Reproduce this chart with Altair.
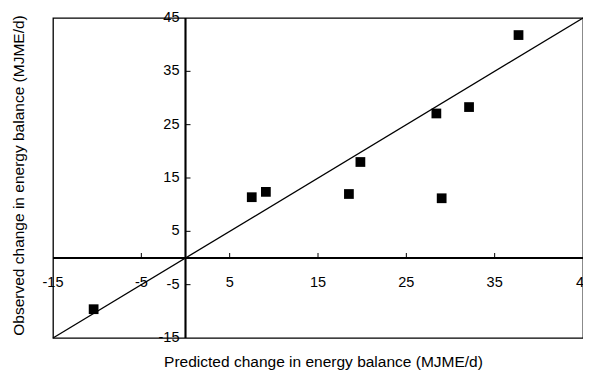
import altair as alt
import pandas as pd

# Observed vs predicted change in energy balance (MJME/d)
predicted = [-10.4, 7.5, 9.1, 18.5, 19.8, 28.4, 29.0, 32.1, 37.7]
observed = [-9.6, 11.4, 12.4, 12.0, 18.0, 27.1, 11.2, 28.3, 41.8]

tick_values = [-5, 5, 15, 25, 35]
x_label_values = [-15, -5, 5, 15, 25, 35]
x_label_texts = ["-15", "-5", "5", "15", "25", "35"]
x_edge_value = [45]
x_edge_text = ["4"]  # the right-most label shows only "4" in the reference
y_label_values = [-15, -5, 5, 15, 25, 35, 45]
y_label_texts = ["-15", "-5", "5", "15", "25", "35", "45"]
line_ends = [-15, 45]

FONT = "Liberation Sans"

pts = pd.DataFrame({"p": predicted, "o": observed})
line_df = pd.DataFrame({"p": line_ends, "o": line_ends})
ticks_df = pd.DataFrame({"v": tick_values})
xlab_df = pd.DataFrame({"v": x_label_values, "t": x_label_texts})
xedge_df = pd.DataFrame({"v": x_edge_value, "t": x_edge_text})
ylab_df = pd.DataFrame({"v": y_label_values, "t": y_label_texts})

xs = alt.Scale(domain=[-15, 45], nice=False, zero=False)
ys = alt.Scale(domain=[-15, 45], nice=False, zero=False)

x_axis = alt.Axis(labels=False, ticks=False, domain=False, grid=False,
                  title="Predicted change in energy balance (MJME/d)",
                  titleFont=FONT, titleFontSize=15.5, titleFontWeight="normal",
                  titleColor="black", titleX=270, titleY=28,
                  titleBaseline="alphabetic", titleAlign="center")
y_axis = alt.Axis(labels=False, ticks=False, domain=False, grid=False,
                  title="Observed change in energy balance (MJME/d)",
                  titleFont=FONT, titleFontSize=15.5, titleFontWeight="normal",
                  titleColor="black", titleX=-35, titleY=157,
                  titleBaseline="middle", titleAlign="center", titleAngle=270)

points = alt.Chart(pts).mark_square(size=95, color="black", opacity=1).encode(
    x=alt.X("p:Q", scale=xs, axis=x_axis),
    y=alt.Y("o:Q", scale=ys, axis=y_axis),
)

diag = alt.Chart(line_df).mark_line(color="black", strokeWidth=1.3).encode(
    x=alt.X("p:Q", scale=xs),
    y=alt.Y("o:Q", scale=ys),
)

vrule = alt.Chart(ticks_df).mark_rule(color="black", strokeWidth=1.3).encode(
    x=alt.datum(0, scale=xs),
)
hrule = alt.Chart(ticks_df).mark_rule(color="black", strokeWidth=1.3).encode(
    y=alt.datum(0, scale=ys),
)

xticks = alt.Chart(ticks_df).mark_rule(color="black", strokeWidth=1, y2Offset=-5).encode(
    x=alt.X("v:Q", scale=xs),
    y=alt.datum(0, scale=ys),
    y2=alt.datum(0),
)
yticks = alt.Chart(ticks_df).mark_rule(color="black", strokeWidth=1, x2Offset=5).encode(
    y=alt.Y("v:Q", scale=ys),
    x=alt.datum(0, scale=xs),
    x2=alt.datum(0),
)

xlabels = alt.Chart(xlab_df).mark_text(
    font=FONT, fontSize=14.5, color="black", dy=25, baseline="middle", align="center"
).encode(
    x=alt.X("v:Q", scale=xs),
    y=alt.datum(0, scale=ys),
    text="t:N",
)
xedge = alt.Chart(xedge_df).mark_text(
    font=FONT, fontSize=14.5, color="black", dy=25, dx=1, baseline="middle", align="right"
).encode(
    x=alt.X("v:Q", scale=xs),
    y=alt.datum(0, scale=ys),
    text="t:N",
)
ylabels = alt.Chart(ylab_df).mark_text(
    font=FONT, fontSize=14.5, color="black", dx=-6, baseline="middle", align="right"
).encode(
    y=alt.Y("v:Q", scale=ys),
    x=alt.datum(0, scale=xs),
    text="t:N",
)

chart = alt.layer(
    vrule, hrule, xticks, yticks, diag, points, xlabels, xedge, ylabels
).properties(
    width=530, height=320,
    autosize=alt.AutoSizeParams(type="none"),
    padding={"left": 45, "top": 10, "right": 0, "bottom": 32},
    background="white",
).configure_view(
    stroke="black", strokeWidth=1.3
)

chart.save("out.html", embed_options={"renderer": "svg", "actions": False})
